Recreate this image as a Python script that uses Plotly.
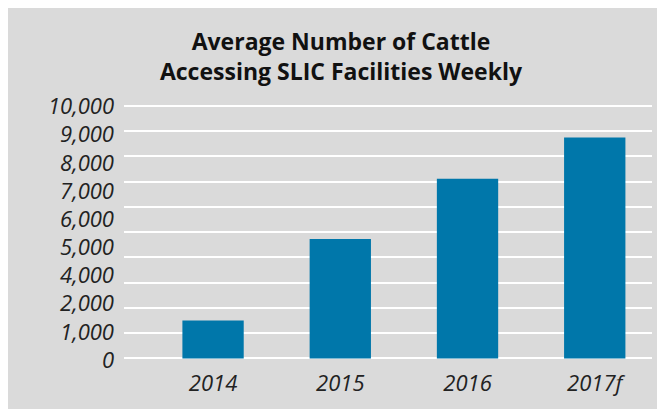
import plotly.graph_objects as go

categories = ["2014", "2015", "2016", "2017f"]
values = [1500, 4730, 7110, 8750]
grid_ticks = list(range(0, 10001, 1000))
label_positions = list(range(10))
label_text = ["0", "1,000", "2,000", "4,000", "5,000", "6,000", "7,000", "8,000", "9,000", "10,000"]

# the page body adds an 8px offset, so the figure is 8px smaller than the window
W, H = 657, 401
L, R, T, B = 116, 13, 88, 36

fig = go.Figure()
fig.add_trace(go.Bar(x=categories, y=values, width=0.482, marker=dict(color="#0077aa", line=dict(width=0)),
                     showlegend=False, hoverinfo="x+y"))
fig.add_trace(go.Scatter(x=[categories[0]], y=[0], yaxis="y2", mode="markers",
                         marker=dict(opacity=0), showlegend=False, hoverinfo="skip"))

fig.update_layout(
    width=W, height=H,
    margin=dict(l=L, r=R, t=T, b=B, pad=0),
    paper_bgcolor="#dadada",
    plot_bgcolor="#dadada",
    title=dict(text="<b>Average Number of Cattle<br>Accessing SLIC Facilities Weekly</b>",
               x=333 / W, xanchor="center", xref="container", y=1 - 42 / H, yanchor="top", yref="container",
               font=dict(family="Open Sans", size=23, color="#111111")),
    xaxis=dict(type="category", range=[-0.70, 3.45], showgrid=False, zeroline=False, showline=False,
               ticks="", tickfont=dict(family="Open Sans", size=22, color="#222222", style="italic")),
    yaxis=dict(range=[-377, 10389], tickvals=grid_ticks, showticklabels=False, showgrid=True,
               gridcolor="white", gridwidth=2, zeroline=False, showline=False, ticks=""),
    yaxis2=dict(overlaying="y", side="left", range=[-0.279, 9.373], tickvals=label_positions,
                ticktext=label_text, showgrid=False, zeroline=False, showline=False, ticks="",
                ticklabelstandoff=9,
                tickfont=dict(family="Open Sans", size=22, color="#222222", style="italic")),
)

fig.write_html("out.html")
